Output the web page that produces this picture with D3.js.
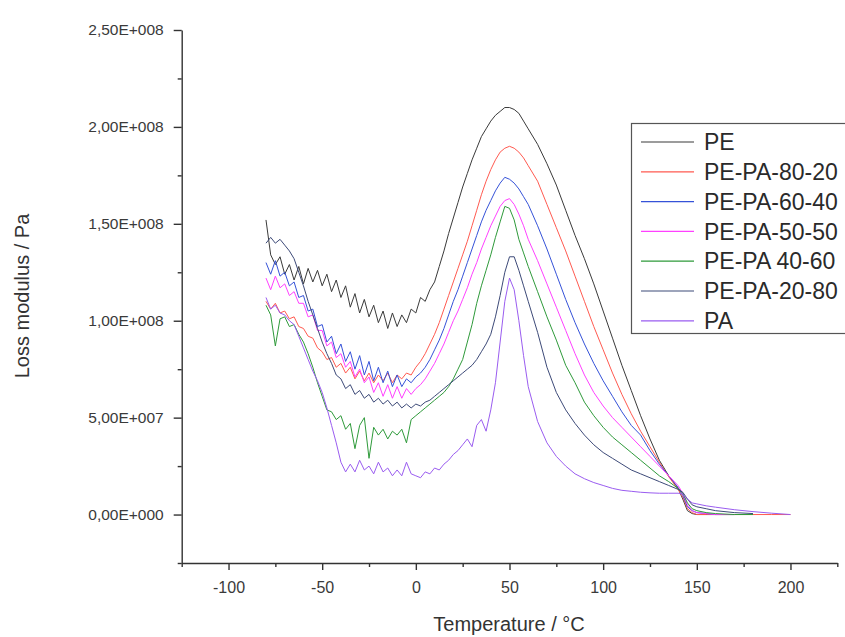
<!DOCTYPE html>
<html>
<head>
<meta charset="utf-8">
<script src="https://cdn.jsdelivr.net/npm/d3@7"></script>
<style>
  html, body { margin: 0; padding: 0; background: #fff; }
  svg { display: block; font-family: "Liberation Sans", Arial, sans-serif; }
</style>
</head>
<body>
<svg id="chart" width="845" height="637"></svg>
<script>
// ---- data (loss modulus values in units of 1e7 Pa) ----
const UNIT = 1e7;
const temperatures = [
  -80,-77.5,-75,-72.5,-70,-67.5,-65,-62.5,-60,-57.5,-55,-52.5,-50,-47.5,-45,-42.5,-40,-37.5,-35,-32.5,
  -30,-27.5,-25,-22.5,-20,-17.5,-15,-12.5,-10,-7.5,-5,-2.5,0,2.5,5,7.5,10,12.5,15,17.5,
  20,22.5,25,27.5,30,32.5,35,37.5,40,42.5,45,47.5,50,52.5,55,57.5,60,
  65,70,75,80,85,90,95,100,105,110,115,120,125,130,135,140,142.5,145,147.5,150,155,160,170,180,190,200
];
const seriesNames = ["PE","PE-PA-80-20","PE-PA-60-40","PE-PA-50-50","PE-PA 40-60","PE-PA-20-80","PA"];
const seriesColors = ["#3a3a3a","#ff5a50","#3552d8","#ff40ff","#2e9a3a","#3d4a78","#9a5cf0"];

const pe = [15.2,13.4,12.9,13.3,12.4,12.9,12.1,12.8,11.9,12.7,12.0,12.6,11.8,12.4,11.5,12.1,11.2,11.8,10.7,11.4,
  10.4,11.1,10.2,10.8,9.9,10.5,9.6,10.4,9.7,10.3,9.9,10.6,10.4,11.2,11.0,11.6,12.0,12.8,13.6,14.5,
  15.3,16.1,16.9,17.6,18.3,18.9,19.5,19.9,20.3,20.6,20.8,21.0,21.0,20.9,20.7,20.3,19.9,
  19.1,18.1,17.0,15.7,14.4,13.2,11.9,10.5,9.1,7.7,6.4,5.1,3.9,2.8,2.0,1.35,0.8,0.2,0.05,0.0,0.0,0.0,0.0,null,null,null];
const pePa8020 = [11.0,10.6,10.9,10.4,10.5,10.1,10.2,9.7,9.6,9.2,9.1,8.6,8.4,8.0,8.1,7.6,7.8,7.3,7.6,7.0,
  7.4,6.9,7.3,6.8,7.2,6.9,7.3,6.8,7.2,7.0,7.3,7.2,7.6,7.9,8.3,8.8,9.3,9.9,10.6,11.3,
  12.0,12.7,13.4,14.1,14.9,15.7,16.5,17.2,17.8,18.3,18.7,18.9,19.0,18.9,18.7,18.4,18.0,
  17.2,16.0,14.8,13.6,12.3,11.0,9.7,8.5,7.3,6.2,5.2,4.3,3.5,2.7,1.95,1.3,0.9,0.3,0.1,0.0,0.0,0.0,0.0,0.0,0.0,0.0];
const pePa6040 = [13.0,12.4,13.1,12.3,12.5,11.8,12.0,11.2,11.3,10.5,10.6,9.7,9.8,8.9,9.2,8.3,8.8,7.9,8.4,7.5,
  8.2,7.2,7.9,6.9,7.6,6.8,7.4,6.6,7.2,6.6,7.0,6.8,7.1,7.3,7.6,8.0,8.5,9.0,9.6,10.3,
  11.0,11.6,12.3,13.0,13.7,14.4,15.1,15.7,16.2,16.7,17.1,17.4,17.3,17.1,16.8,16.4,16.0,
  14.9,13.7,12.4,11.1,9.9,8.8,7.8,6.9,6.1,5.3,4.6,4.1,3.3,2.6,2.0,1.4,1.0,0.4,0.2,0.1,0.05,0.0,0.0,null,null,null];
const pePa5050 = [12.2,11.6,12.3,11.7,11.9,11.3,11.5,10.9,10.9,10.2,10.3,9.5,9.5,8.7,8.9,8.1,8.3,7.6,7.9,7.1,
  7.5,6.8,7.1,6.3,6.8,6.1,6.7,6.0,6.6,6.0,6.5,6.2,6.5,6.7,7.0,7.4,7.8,8.3,8.8,9.4,
  10.0,10.5,11.1,11.7,12.4,13.0,13.7,14.3,14.9,15.4,15.9,16.2,16.3,16.0,15.5,14.9,14.2,
  13.1,11.9,10.7,9.5,8.3,7.2,6.3,5.6,5.0,4.5,4.0,3.5,3.0,2.5,2.0,1.5,1.1,0.5,0.2,0.1,0.05,0.0,0.0,null,null,null];
const pePa4060 = [10.8,10.3,8.7,10.1,10.2,9.7,9.8,9.3,8.9,8.3,7.6,6.8,6.1,5.4,5.3,4.9,5.1,4.4,4.7,3.4,
  4.6,5.0,2.9,4.5,4.1,4.4,3.9,4.3,4.1,4.4,3.7,4.9,5.1,5.3,5.5,5.7,5.9,6.1,6.3,6.6,
  7.0,7.5,8.0,8.9,9.8,10.9,11.8,12.6,13.4,14.3,15.1,15.9,15.8,15.2,14.2,13.5,12.8,
  11.5,10.2,9.0,7.7,6.8,5.8,5.1,4.5,4.0,3.6,3.2,2.8,2.4,2.0,1.7,1.35,1.1,0.6,0.3,0.2,0.1,0.05,0.0,0.0,null,null];
const pePa2080 = [14.0,14.3,14.0,14.2,13.9,13.6,13.2,12.5,11.8,11.0,10.3,9.6,8.9,8.3,7.8,7.2,7.0,6.5,6.7,6.2,
  6.4,6.0,6.2,5.8,6.0,5.7,5.9,5.6,5.8,5.5,5.7,5.5,5.7,5.6,5.8,5.9,6.1,6.3,6.5,6.7,
  6.9,7.1,7.3,7.5,7.7,8.0,8.4,8.8,9.3,10.2,11.3,12.5,13.3,13.3,12.6,11.8,11.0,
  9.4,7.6,6.3,5.4,4.7,4.1,3.6,3.2,2.9,2.6,2.3,2.1,1.9,1.7,1.5,1.3,1.15,0.8,0.5,0.4,0.3,0.2,0.1,0.05,null,null];
const pa = [11.2,10.6,10.8,10.4,10.3,10.0,9.8,9.2,8.6,8.0,7.4,6.9,6.3,5.5,4.6,3.7,2.7,2.2,2.6,2.2,
  2.8,2.3,2.5,2.1,2.7,2.2,2.4,2.0,2.3,2.0,2.7,2.1,2.0,1.9,2.2,2.1,2.4,2.3,2.6,2.8,
  3.1,3.3,3.6,3.9,3.5,4.6,4.9,4.3,5.4,6.8,8.9,11.0,12.2,11.6,10.0,8.2,6.6,
  4.8,3.7,3.0,2.5,2.1,1.85,1.65,1.5,1.35,1.25,1.2,1.15,1.12,1.1,1.1,1.1,1.05,0.8,0.6,0.55,0.45,0.38,0.25,0.15,0.07,0.0];
const seriesValues = [pe, pePa8020, pePa6040, pePa5050, pePa4060, pePa2080, pa];

const xMajorTicks = [-100,-50,0,50,100,150,200];
const xTickLabels = ["-100","-50","0","50","100","150","200"];
const xMinorTicks = [-125,-75,-25,25,75,125,175,225];
const yMajorTicks = [0,5e7,1e8,1.5e8,2e8,2.5e8];
const yTickLabels = ["0,00E+000","5,00E+007","1,00E+008","1,50E+008","2,00E+008","2,50E+008"];
const yMinorTicks = [-2.5e7,2.5e7,7.5e7,1.25e8,1.75e8,2.25e8];

// ---- layout ----
const svg = d3.select("#chart");
const x = d3.scaleLinear().domain([-125, 225]).range([181.7, 837.3]);
const y = d3.scaleLinear().domain([-2.5e7, 2.5e8]).range([563, 30]);
const axisColor = "#333";

// curves
const line = d3.line()
  .defined(d => d[1] !== null)
  .x(d => x(d[0]))
  .y(d => y(d[1] * UNIT));

const curves = svg.append("g");
seriesValues.forEach((vals, i) => {
  const pts = temperatures.map((t, j) => [t, vals[j] === undefined ? null : vals[j]]);
  curves.append("path")
    .datum(pts)
    .attr("fill", "none")
    .attr("stroke", seriesColors[i])
    .attr("stroke-width", 1)
    .attr("stroke-linejoin", "round")
    .attr("d", line);
});

// axes
function styleAxis(g) {
  g.selectAll(".domain").attr("stroke", axisColor).attr("stroke-width", 1.4);
  g.selectAll(".tick line").attr("stroke", axisColor).attr("stroke-width", 1.4);
  g.selectAll(".tick text").attr("fill", "#3a3a3a");
}

const yAxis = svg.append("g").attr("transform", "translate(181.7,0)")
  .call(d3.axisLeft(y).tickValues(yMajorTicks).tickSize(8).tickSizeOuter(0)
    .tickPadding(10).tickFormat((d, i) => yTickLabels[i]));
yAxis.selectAll(".tick text").attr("font-size", 15.5);
styleAxis(yAxis);
svg.append("g").attr("transform", "translate(181.7,0)")
  .call(d3.axisLeft(y).tickValues(yMinorTicks).tickSize(4).tickSizeOuter(0).tickFormat(""))
  .call(g => { g.select(".domain").remove(); styleAxis(g); });

const xAxis = svg.append("g").attr("transform", "translate(0,563)")
  .call(d3.axisBottom(x).tickValues(xMajorTicks).tickSize(7).tickSizeOuter(0)
    .tickPadding(12).tickFormat((d, i) => xTickLabels[i]));
xAxis.selectAll(".tick text").attr("font-size", 16);
styleAxis(xAxis);
svg.append("g").attr("transform", "translate(0,563)")
  .call(d3.axisBottom(x).tickValues(xMinorTicks).tickSize(4).tickSizeOuter(0).tickFormat(""))
  .call(g => { g.select(".domain").remove(); styleAxis(g); });

// axis titles
svg.append("text")
  .attr("x", 509).attr("y", 631)
  .attr("text-anchor", "middle")
  .attr("font-size", 20).attr("fill", "#333")
  .text("Temperature / °C");
svg.append("text")
  .attr("transform", "translate(29,296) rotate(-90)")
  .attr("text-anchor", "middle")
  .attr("font-size", 20).attr("fill", "#333")
  .text("Loss modulus / Pa");

// legend
const legend = svg.append("g");
legend.append("rect")
  .attr("x", 631.5).attr("y", 123.5).attr("width", 240).attr("height", 210)
  .attr("fill", "#fff").attr("stroke", "#555").attr("stroke-width", 1.2);
seriesNames.forEach((name, i) => {
  const yy = 142 + i * 29.8;
  legend.append("line")
    .attr("x1", 641).attr("x2", 694).attr("y1", yy).attr("y2", yy)
    .attr("stroke", seriesColors[i]).attr("stroke-width", 1.2);
  legend.append("text")
    .attr("x", 704).attr("y", yy).attr("dy", "0.36em")
    .attr("font-size", 23).attr("fill", "#2a2a2a")
    .text(name);
});
</script>
</body>
</html>
